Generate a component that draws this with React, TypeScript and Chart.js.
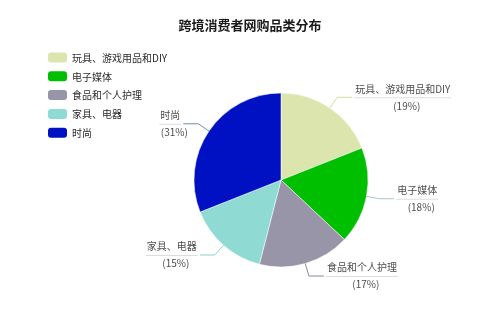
import React, { useEffect, useRef } from "react";
import { Chart, registerables } from "chart.js";

Chart.register(...registerables);

const titleText = "跨境消费者网购品类分布";
const categories = ["玩具、游戏用品和DIY", "电子媒体", "食品和个人护理", "家具、电器", "时尚"];
const values = [19, 18, 17, 15, 31];
const sliceColors = ["#dbe5ad", "#00bf00", "#9995a8", "#90dad4", "#0011c4"];
const connectorColors = ["#d3dda3", "#a9c6cf", "#8c8a99", "#8fd3cd", "#6f8ea3"];

const FONT = '"Noto Sans CJK SC", "Noto Sans", sans-serif';

const overlayPlugin = {
  id: "overlay",
  afterDraw(chart: any) {
    const ctx = chart.ctx as CanvasRenderingContext2D;
    ctx.save();
    // title
    ctx.font = `bold 13px ${FONT}`;
    ctx.fillStyle = "#1a1a1a";
    ctx.textAlign = "center";
    ctx.textBaseline = "middle";
    ctx.fillText(titleText, chart.width / 2, 25);

    // legend
    const labels: string[] = chart.data.labels;
    ctx.font = `10px ${FONT}`;
    labels.forEach((lab, i) => {
      const y = 57.5 + i * 18.8;
      ctx.fillStyle = sliceColors[i];
      ctx.beginPath();
      (ctx as any).roundRect(48, y - 5, 19, 10, 3);
      ctx.fill();
      ctx.fillStyle = "#2b2b2b";
      ctx.textAlign = "left";
      ctx.textBaseline = "middle";
      ctx.fillText(lab, 72, y + 0.5);
    });

    // outside labels
    const meta = chart.getDatasetMeta(0);
    const data: number[] = chart.data.datasets[0].data;
    const total = data.reduce((a, b) => a + b, 0);
    const L1 = 13;
    const L2 = 15;
    meta.data.forEach((arc: any, i: number) => {
      const p = arc.getProps(["x", "y", "startAngle", "endAngle", "outerRadius"], true);
      const mid = (p.startAngle + p.endAngle) / 2;
      const c = Math.cos(mid);
      const s = Math.sin(mid);
      const x0 = p.x + c * p.outerRadius;
      const y0 = p.y + s * p.outerRadius;
      const x1 = p.x + c * (p.outerRadius + L1);
      const y1 = p.y + s * (p.outerRadius + L1);
      const right = c >= 0;
      const x2 = x1 + (right ? L2 : -L2);
      ctx.strokeStyle = connectorColors[i];
      ctx.lineWidth = 1;
      ctx.beginPath();
      ctx.moveTo(x0, y0);
      ctx.lineTo(x1, y1);
      ctx.lineTo(x2, y1);
      ctx.stroke();

      ctx.font = `10px ${FONT}`;
      const name = labels[i];
      const w = ctx.measureText(name).width + 2;
      const ux0 = right ? x2 + 2 : x2 - 2 - w;
      const ux1 = ux0 + w;
      ctx.strokeStyle = "#dddddd";
      ctx.beginPath();
      ctx.moveTo(ux0, y1 + 0.5);
      ctx.lineTo(ux1, y1 + 0.5);
      ctx.stroke();
      const cx = (ux0 + ux1) / 2;
      ctx.fillStyle = "#4d4d4d";
      ctx.textAlign = "center";
      ctx.textBaseline = "middle";
      ctx.fillText(name, cx, y1 - 8.5);
      const pct = Math.round((data[i] / total) * 100);
      ctx.fillText(`(${pct}%)`, cx + 4, y1 + 8.5);
    });
    ctx.restore();
  },
};

export default function App() {
  const ref = useRef<HTMLCanvasElement | null>(null);
  useEffect(() => {
    if (!ref.current) return;
    const chart = new Chart(ref.current, {
      type: "pie",
      data: {
        labels: categories,
        datasets: [
          {
            data: values,
            backgroundColor: sliceColors,
            borderColor: "#ffffff",
            borderWidth: 0.5,
            radius: 87,
          } as any,
        ],
      },
      options: {
        animation: false,
        responsive: false,
        layout: { padding: { left: 194, right: 132, top: 93, bottom: 42 } },
        plugins: {
          legend: { display: false },
          title: { display: false },
          tooltip: { enabled: false },
        },
      },
      plugins: [overlayPlugin],
    });
    return () => chart.destroy();
  }, []);
  return (
    <div style={{ position: "absolute", left: 0, top: 0, width: 500, height: 309, background: "#fff" }}>
      <canvas ref={ref} width={500} height={309} />
    </div>
  );
}
